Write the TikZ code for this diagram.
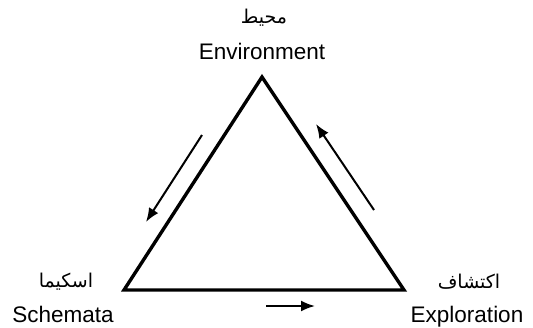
\documentclass[tikz,border=0pt]{standalone}
\usepackage{fontspec}
\setmainfont{Liberation Sans}
\newfontfamily\arabicfont[Script=Arabic]{DejaVu Sans}
\TeXXeTstate=1
\usetikzlibrary{arrows.meta}
\tikzset{
  lbl/.style={inner sep=0pt, font=\fontsize{22.5}{26}\selectfont, anchor=base},
  ar/.style={inner sep=0pt, font=\arabicfont\fontsize{19}{22}\selectfont},
  tri/.style={line width=3.4pt, line join=miter},
  flow/.style={line width=2pt, -{Latex[length=14pt,width=11pt]}}
}
\begin{document}
\begin{tikzpicture}[x=1pt,y=-1pt]
\useasboundingbox (0,0) rectangle (533,327);
\coordinate (top) at (262,77);
\coordinate (bl) at (124,290);
\coordinate (br) at (404,290);
\draw[tri] (top) -- (bl) -- (br) -- cycle;
\node[ar] (envar) at (264,18) {\beginR محيط\endR};
\node[lbl] (env) at (262,59) {Environment};
\node[ar] (schar) at (66,282) {\beginR اسكيما\endR};
\node[lbl] (sch) at (63,322) {Schemata};
\node[ar] (expar) at (469,282) {\beginR اكتشاف\endR};
\node[lbl] (exp) at (467,322) {Exploration};
\coordinate (a1s) at (202,135);
\coordinate (a1e) at (146,222);
\coordinate (a2s) at (374,210);
\coordinate (a2e) at (316,124);
\coordinate (a3s) at (266,306);
\coordinate (a3e) at (315,306);
\draw[flow] (a1s) -- (a1e);
\draw[flow] (a2s) -- (a2e);
\draw[flow] (a3s) -- (a3e);
\end{tikzpicture}
\end{document}
